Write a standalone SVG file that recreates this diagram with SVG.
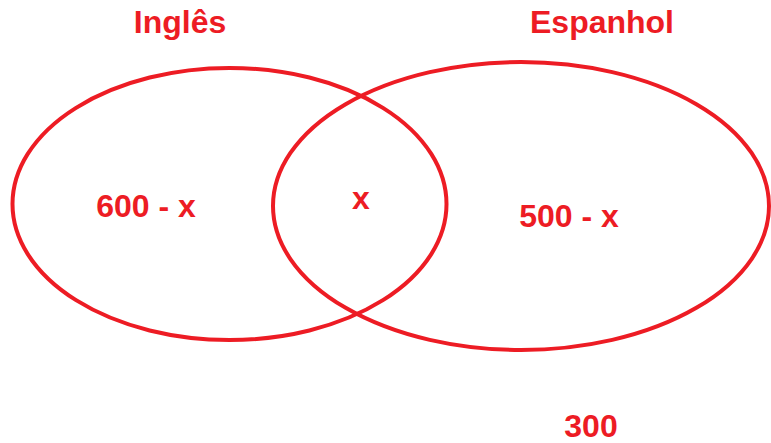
<svg xmlns="http://www.w3.org/2000/svg" width="771" height="443" viewBox="0 0 771 443">
<style>
.set{fill:none;stroke:#ed1c24;stroke-width:4}
.t{font-family:"Liberation Sans",Arial,sans-serif;font-weight:bold;font-size:32px;fill:#ed1c24;text-anchor:middle}
</style>
<rect width="771" height="443" fill="#fff"/>
<g id="ingles">
<ellipse class="set" cx="229.5" cy="204" rx="217" ry="136"/>
<text class="t" x="180" y="33">Inglês</text>
<text class="t" x="146" y="217">600 - x</text>
</g>
<g id="espanhol">
<ellipse class="set" cx="521" cy="206" rx="248" ry="144"/>
<text class="t" x="602" y="33">Espanhol</text>
<text class="t" x="569" y="227">500 - x</text>
</g>
<g id="intersecao">
<text class="t" x="361" y="209">x</text>
</g>
<g id="fora">
<text class="t" x="591" y="437">300</text>
</g>
<g id="connectors"/>
</svg>
